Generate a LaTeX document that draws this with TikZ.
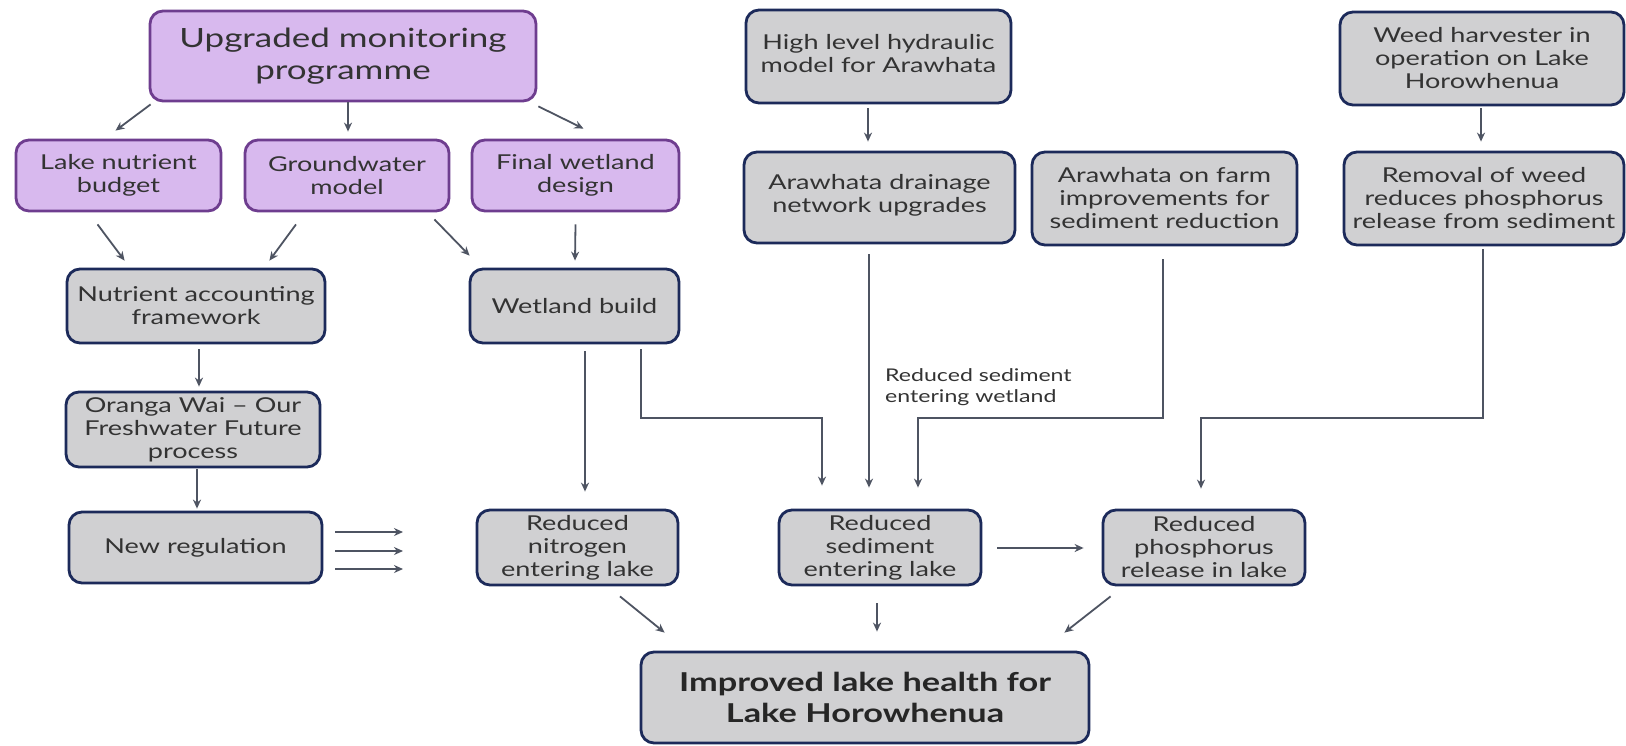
\documentclass[tikz,border=0pt]{standalone}
\usepackage{fontspec}
\setmainfont{Lato}[FakeStretch=1.32]
\usetikzlibrary{calc,arrows.meta}
\definecolor{pfill}{HTML}{D8B9EE}
\definecolor{pdraw}{HTML}{6E3D8F}
\definecolor{gfill}{HTML}{D0D0D2}
\definecolor{gdraw}{HTML}{1C2A5A}
\definecolor{arr}{HTML}{4E5462}
\definecolor{txt}{HTML}{333333}
\begin{document}
\begin{tikzpicture}[x=1pt,y=-1pt,
  box/.style={rounded corners=13pt, line width=2.8pt, inner sep=0pt, align=center, text=txt,
    font=\fontsize{20.5}{23}\selectfont},
  pbox/.style={box, fill=pfill, draw=pdraw},
  gbox/.style={box, fill=gfill, draw=gdraw},
  conn/.style={draw=arr, line width=1.8pt, -{Stealth[length=9pt,width=8pt]}},
  lbl/.style={text=txt, align=left, inner sep=0pt, font=\fontsize{17.5}{21}\selectfont}]
\useasboundingbox (0,0) rectangle (1626,745);
\fill[white] (0,0) rectangle (1626,745);

% purple boxes
\node[pbox, minimum width=386pt, minimum height=90pt, font=\fontsize{26.5}{32}\selectfont] (up) at (343,56) {Upgraded monitoring\\programme};
\node[pbox, minimum width=205pt, minimum height=71pt] (lnb) at (118.5,175.5) {Lake nutrient\\budget};
\node[pbox, minimum width=204pt, minimum height=71pt] (gw) at (347,175.5) {Groundwater\\model};
\node[pbox, minimum width=207pt, minimum height=71pt] (fwd) at (575.5,175.5) {Final wetland\\design};

% gray boxes
\node[gbox, minimum width=258pt, minimum height=74pt] (naf) at (196,306) {Nutrient accounting\\framework};
\node[gbox, minimum width=209pt, minimum height=74pt] (wb) at (574.5,306) {Wetland build};
\node[gbox, minimum width=254pt, minimum height=75pt] (ow) at (193,429.5) {Oranga Wai -- Our\\Freshwater Future\\process};
\node[gbox, minimum width=253pt, minimum height=71pt] (nr) at (195.5,547.5) {New regulation};
\node[gbox, minimum width=201pt, minimum height=75pt] (rn) at (577.5,547.5) {Reduced\\nitrogen\\entering lake};
\node[gbox, minimum width=202pt, minimum height=75pt] (rs) at (880,547.5) {Reduced\\sediment\\entering lake};
\node[gbox, minimum width=202pt, minimum height=75pt] (rp) at (1204,547.5) {Reduced\\phosphorus\\release in lake};
\node[gbox, minimum width=448pt, minimum height=91pt, font=\fontsize{26}{31}\selectfont\bfseries, text=black!85] (ilh) at (865,697.5) {Improved lake health for\\Lake Horowhenua};
\node[gbox, minimum width=265pt, minimum height=93pt] (hl) at (878.5,56.5) {High level hydraulic\\model for Arawhata\\[-16pt]\mbox{}};
\node[gbox, minimum width=271pt, minimum height=91pt] (ad) at (879.5,197.5) {Arawhata drainage\\network upgrades\\[-14pt]\mbox{}};
\node[gbox, minimum width=265pt, minimum height=93pt] (af) at (1164.5,198.5) {Arawhata on farm\\improvements for\\sediment reduction};
\node[gbox, minimum width=284pt, minimum height=93pt] (wh) at (1482,58.5) {Weed harvester in\\operation on Lake\\Horowhenua};
\node[gbox, minimum width=280pt, minimum height=93pt] (rw) at (1484,198.5) {Removal of weed\\reduces phosphorus\\release from sediment};

% label
\node[lbl, anchor=north west] (lab) at (885,368) {Reduced sediment\\entering wetland};

% arrows top section
\draw[conn] ($(up.south west)+(2,2)$) -- ($(lnb.north)+(-3,-8)$);
\draw[conn] ($(up.south)+(5,0)$) -- ($(gw.north)+(1,-7)$);
\draw[conn] ($(up.south east)+(1,4)$) -- ($(fwd.north)+(8,-10)$);
\draw[conn] ($(lnb.south)+(-21,12)$) -- ($(naf.north west)+(59,-7)$);
\draw[conn] ($(gw.south)+(-51,12)$) -- ($(naf.north east)+(-57,-7)$);
\draw[conn] ($(gw.south east)+(-16,7)$) -- ($(wb.north west)+(1,-12)$);
\draw[conn] ($(fwd.south)+(0,12)$) -- ($(wb.north)+(0.5,-7)$);
\draw[conn] ($(naf.south)+(3,5)$) -- ($(ow.north)+(6,-4)$);
\draw[conn] ($(ow.south)+(4,1)$) -- ($(nr.north)+(1.5,-2)$);
\draw[conn] ($(hl.south)+(-10.5,4)$) -- ($(ad.north)+(-11.5,-9)$);
\draw[conn] ($(wh.south)+(-1,2)$) -- ($(rw.north)+(-3,-9)$);

% triple arrows
\coordinate (t1) at (403,532);
\coordinate (t2) at (403,551);
\coordinate (t3) at (403,569);
\draw[conn] ($(nr.east)+(12,-15.5)$) -- (t1);
\draw[conn] ($(nr.east)+(12,3.5)$) -- (t2);
\draw[conn] ($(nr.east)+(12,21.5)$) -- (t3);

% wetland build to nitrogen / sediment
\draw[conn] ($(wb.south)+(10.5,7)$) -- ($(rn.north)+(7.5,-17)$);
\draw[conn] ($(wb.south)+(66.5,5)$) |- (822,418) -- ($(rs.north)+(-58,-23)$);
\draw[conn] ($(ad.south)+(-10.5,10)$) -- ($(rs.north)+(-11,-21)$);
\draw[conn] ($(af.south)+(-1.5,13)$) |- (918,418) -- ($(rs.north)+(38,-21)$);
\draw[conn] ($(rw.south)+(-1,3)$) |- (1201,418) -- ($(rp.north)+(-3,-20)$);

% bottom arrows
\draw[conn] ($(rs.east)+(15,0.5)$) -- ($(rp.west)+(-18,0.5)$);
\draw[conn] ($(rn.south)+(42.5,10)$) -- ($(ilh.north west)+(25,-18)$);
\draw[conn] ($(rs.south)+(-3,17)$) -- ($(ilh.north)+(12,-19)$);
\draw[conn] ($(rp.south west)+(9,10)$) -- ($(ilh.north east)+(-26,-18)$);
\end{tikzpicture}
\end{document}
